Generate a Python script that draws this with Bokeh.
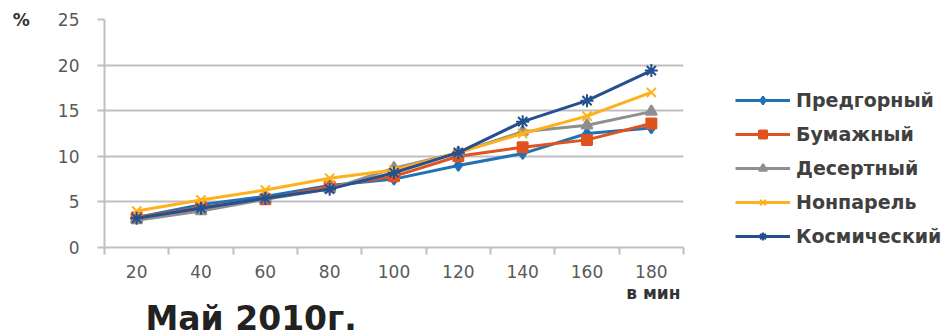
from bokeh.plotting import figure
from bokeh.models import FixedTicker, Legend, LegendItem, Title
from bokeh.layouts import row
from bokeh.embed import file_html
from bokeh.resources import INLINE

categories = ["20", "40", "60", "80", "100", "120", "140", "160", "180"]
predgorny = [3.3, 4.7, 5.6, 6.8, 7.5, 9.0, 10.3, 12.5, 13.1]
bumazhny = [3.3, 4.4, 5.3, 6.7, 7.8, 10.0, 11.0, 11.8, 13.6]
desertny = [3.0, 4.0, 5.3, 6.4, 8.7, 10.4, 12.7, 13.4, 14.9]
nonparel = [4.0, 5.2, 6.3, 7.6, 8.5, 10.4, 12.5, 14.4, 17.0]
kosmichesky = [3.2, 4.3, 5.4, 6.4, 8.2, 10.4, 13.8, 16.1, 19.4]
series_names = ["Предгорный", "Бумажный", "Десертный", "Нонпарель", "Космический"]
y_ticks = [0, 5, 10, 15, 20, 25]

xs = list(range(1, len(categories) + 1))

p = figure(width=700, height=335, output_backend="svg", toolbar_location=None,
           x_range=(0.5, len(categories) + 0.5), y_range=(0, 25),
           min_border_left=104, min_border_right=17, min_border_top=19,
           min_border_bottom=82)
p.outline_line_color = None
p.background_fill_color = "white"
p.border_fill_color = "white"

grid_col = "#BFBFBF"
p.xgrid.grid_line_color = None
p.ygrid.grid_line_color = grid_col
p.ygrid.grid_line_width = 2
p.ygrid.ticker = FixedTicker(ticks=y_ticks)

p.yaxis.ticker = FixedTicker(ticks=y_ticks)
p.yaxis.axis_line_color = grid_col
p.yaxis.axis_line_width = 2
p.yaxis.major_tick_line_color = grid_col
p.yaxis.major_tick_line_width = 2
p.yaxis.major_tick_out = 7
p.yaxis.major_tick_in = 0
p.yaxis.minor_tick_line_color = None
p.yaxis.major_label_standoff = 18
p.yaxis.major_label_text_font = "DejaVu Sans"
p.yaxis.major_label_text_font_size = "17px"
p.yaxis.major_label_text_color = "#595959"
p.yaxis.axis_label = "%"
p.yaxis.axis_label_orientation = "horizontal"
p.yaxis.axis_label_standoff = 25
p.yaxis.axis_label_text_font = "DejaVu Sans"
p.yaxis.axis_label_text_font_style = "bold"
p.yaxis.axis_label_text_font_size = "17px"
p.yaxis.axis_label_text_color = "#333333"
try:
    p.yaxis[0].axis_label_align = "end"
except Exception:
    pass

boundaries = [i + 0.5 for i in range(len(categories) + 1)]
p.xaxis.ticker = FixedTicker(ticks=xs, minor_ticks=boundaries)
p.xaxis.major_label_overrides = {x: c for x, c in zip(xs, categories)}
p.xaxis.axis_line_color = grid_col
p.xaxis.axis_line_width = 2
p.xaxis.major_tick_line_color = None
p.xaxis.major_tick_out = 0
p.xaxis.major_tick_in = 0
p.xaxis.minor_tick_line_color = grid_col
p.xaxis.minor_tick_line_width = 2
p.xaxis.minor_tick_out = 7
p.xaxis.minor_tick_in = 0
p.xaxis.major_label_standoff = 10
p.xaxis.major_label_text_font = "DejaVu Sans"
p.xaxis.major_label_text_font_size = "17px"
p.xaxis.major_label_text_color = "#595959"

colors = ["#2171B5", "#E0531F", "#8F8F8F", "#FFB11B", "#24508F"]
markers = ["diamond", "square", "triangle", "x", "asterisk"]
sizes = [11, 10, 11, 13, 13]
data = [predgorny, bumazhny, desertny, nonparel, kosmichesky]

for name, vals, col, mk, sz in zip(series_names, data, colors, markers, sizes):
    p.line(xs, vals, line_color=col, line_width=3)
    p.scatter(xs, vals, marker=mk, size=sz, fill_color=col, line_color=col, line_width=2)

p.add_layout(Title(text="в мин", align="right", offset=3, standoff=0,
                   text_font="DejaVu Sans", text_font_style="bold",
                   text_font_size="17px", text_color="#333333"), "below")
p.add_layout(Title(text="Май 2010г.", align="left", offset=41, standoff=-8,
                   vertical_align="top",
                   text_font="DejaVu Sans", text_font_style="bold",
                   text_font_size="33px", text_color="#222222"), "below")

# legend panel
lf = figure(width=243, height=335, output_backend="svg", toolbar_location=None,
            x_range=(0, 1), y_range=(0, 1), min_border=0,
            x_axis_location=None, y_axis_location=None)
lf.outline_line_color = None
lf.grid.grid_line_color = None
nan = float("nan")
items = []
for name, col, mk, sz in zip(series_names, colors, markers, sizes):
    r1 = lf.line([nan], [nan], line_color=col, line_width=3)
    r2 = lf.scatter([nan], [nan], marker=mk, size=sz - 1, fill_color=col,
                    line_color=col, line_width=2)
    items.append(LegendItem(label=name, renderers=[r1, r2]))

legend = Legend(items=items, location=(35, 0), orientation="vertical",
                glyph_width=55, glyph_height=20, label_height=20, spacing=12,
                label_standoff=6, padding=0, margin=0,
                border_line_color=None, background_fill_alpha=0,
                label_text_font="DejaVu Sans", label_text_font_size="19px",
                label_text_font_style="bold", label_text_color="#404040")
lf.add_layout(legend, "center")

layout = row(p, lf)
open("out.html", "w").write(file_html(layout, INLINE))
